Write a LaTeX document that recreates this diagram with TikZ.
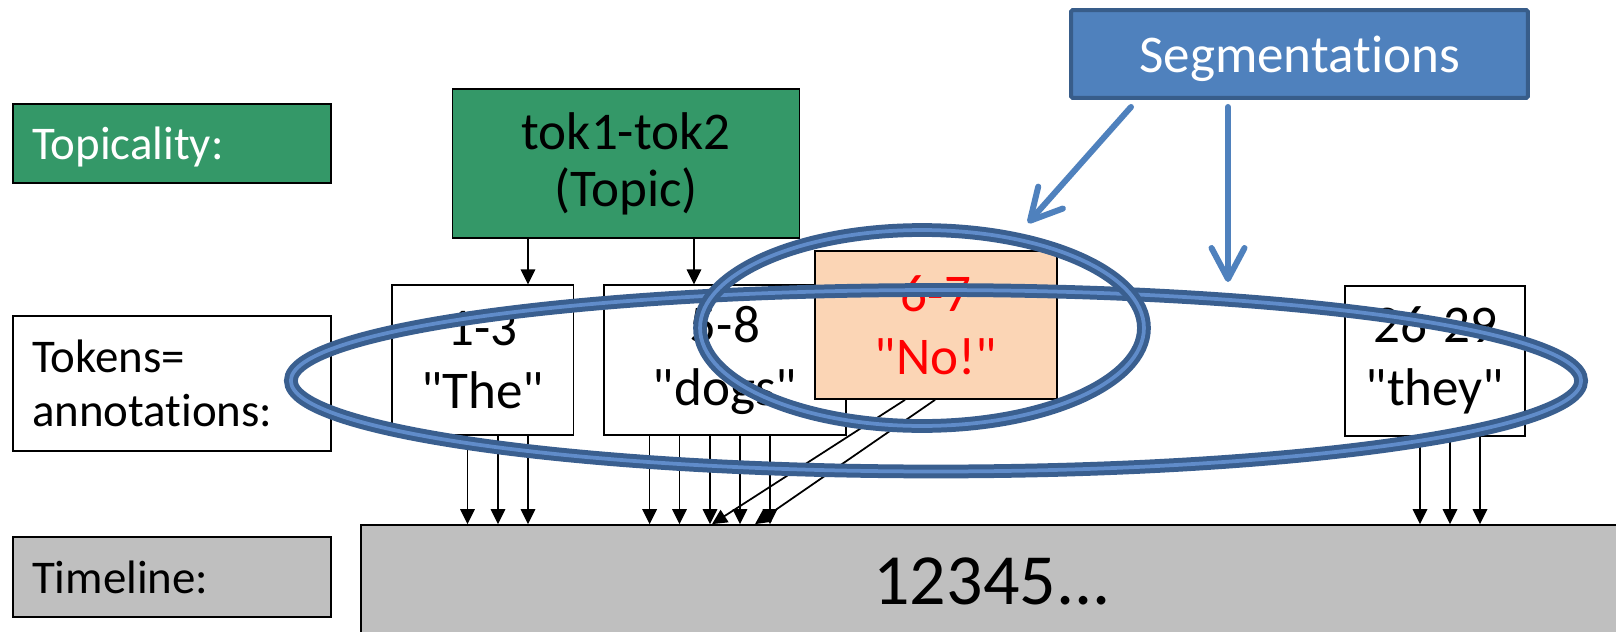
\documentclass[tikz,border=0pt]{standalone}
\usepackage{fontspec}
\setmainfont{Carlito}[Ligatures={TeXOff,NoCommon}]
\usepackage{tikz}
\usetikzlibrary{shapes.geometric,arrows.meta,positioning,calc}

\definecolor{topicgreen}{RGB}{52,152,104}
\definecolor{segblue}{RGB}{79,129,189}
\definecolor{segborder}{RGB}{56,93,138}
\definecolor{ringdark}{RGB}{58,95,143}
\definecolor{ringlight}{RGB}{96,140,202}
\definecolor{nopeach}{RGB}{251,213,181}
\definecolor{timegray}{RGB}{191,191,191}

\begin{document}
\begin{tikzpicture}[x=0.02cm, y=-0.02cm,
  rowlabel/.style={draw, line width=1pt, minimum width=6.36cm, text width=5.6cm, inner xsep=0.38cm, inner ysep=0pt, align=left, font=\fontsize{26.7pt}{30.6pt}\selectfont},
  topicbox/.style={draw, line width=1pt, fill=topicgreen, minimum width=6.94cm, minimum height=2.98cm, inner sep=0pt, align=center, font=\fontsize{30.2pt}{32.5pt}\selectfont},
  segbox/.style={draw=segborder, line width=0.08cm, fill=segblue, text=white, rounded corners=1pt, minimum width=9.14cm, minimum height=1.76cm, inner sep=0pt, text depth=0pt, font=\fontsize{30.2pt}{31pt}\selectfont},
  tok/.style={draw, line width=1pt, fill=white, minimum height=2.99cm, inner sep=0pt, align=center, font=\fontsize{30.2pt}{35.9pt}\selectfont},
  timebox/.style={draw, line width=1pt, fill=timegray, minimum width=25.24cm, minimum height=2.26cm, inner sep=0pt, font=\fontsize{41pt}{49pt}\selectfont},
  ring/.style={ellipse, draw=ringdark, double=ringlight, line width=0.1cm, double distance=0.075cm, inner sep=0pt},
  tokarrow/.style={-{Triangle[length=0.3cm,width=0.29cm]}, line width=1pt},
  segarrow/.style={-{Straight Barb[length=0.62cm,width=0.66cm,round]}, draw=segblue, line width=0.12cm, line cap=round}
]
\path[use as bounding box, fill=white] (0,0) rectangle (1616,632);

% Row labels
\node[rowlabel, fill=topicgreen, text=white, text depth=0pt, minimum height=1.58cm] (topiclbl) at (172,143.5) {Topicality:};
\node[rowlabel, minimum height=2.7cm] (toklbl) at (172,383.5) {Tokens=\\annotations:};
\node[rowlabel, fill=timegray, text depth=0pt, minimum height=1.6cm] (timelbl) at (172,577) {Timeline:};

% Topic and segmentation boxes
\node[topicbox] (topic) at (626,163.5) {tok1-tok2\\(Topic)};
\node[segbox] (seg) at (1299.5,54) {Segmentations};

% Tokens row
\node[tok, minimum width=3.63cm] (t13) at (482.7,360) {1-3\\"The"};
\node[tok, minimum width=4.84cm] (dogs) at (725,360) {5-8\\"dogs"};
\node[tok, fill=nopeach, text=red, minimum width=4.83cm, minimum height=2.96cm] (no) at (936,325) {6-7\\"No!"};
\node[tok, minimum width=3.6cm, minimum height=3.0cm] (they) at (1435,360.7) {26-29\\"they"};

% Timeline
\node[timebox] (tl) at (992,581.5) {12345...};

% arrows
\draw[tokarrow] (528,0 |- topic.south) -- (528,0 |- t13.north);
\draw[tokarrow] (694,0 |- topic.south) -- (694,0 |- dogs.north);
\foreach \x in {467.5,498,528}
  \draw[tokarrow] (\x,0 |- t13.south) -- (\x,0 |- tl.north);
\foreach \x in {649.6,679.5,710,740,770}
  \draw[tokarrow] (\x,0 |- dogs.south) -- (\x,0 |- tl.north);
\foreach \x in {1420,1450,1480}
  \draw[tokarrow] (\x,0 |- they.south) -- (\x,0 |- tl.north);
\foreach \a/\b in {905/712,935/755}
  \draw[tokarrow] (\a,0 |- no.south) -- (\b,0 |- tl.north);

% Segmentation rings
\node[ring, minimum width=25.81cm, minimum height=3.63cm] (bigring) at (936,380.75) {};
\node[ring, minimum width=8.88cm, minimum height=3.92cm] (smallring) at (922,328) {};

\coordinate (hitsmall) at (1028,223);
\coordinate (hitbig) at (1228,282);
\draw[segarrow] ([yshift=-0.14cm]1131,0 |- seg.south) -- (hitsmall);
\draw[segarrow] ([yshift=-0.14cm]1228,0 |- seg.south) -- (hitbig);
\end{tikzpicture}
\end{document}
